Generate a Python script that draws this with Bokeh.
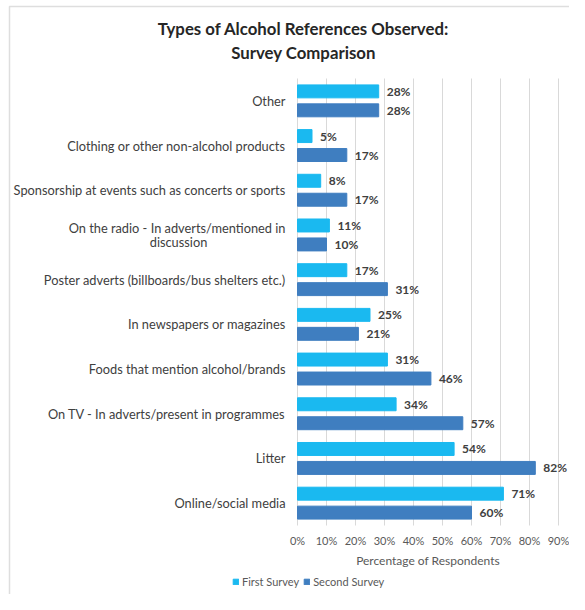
from bokeh.plotting import figure
from bokeh.models import (ColumnDataSource, FixedTicker, PrintfTickFormatter, Label,
                          Legend, LegendItem, LabelSet, Range1d)
from bokeh.core.properties import value
from bokeh.embed import file_html
from bokeh.resources import INLINE

categories = [
    "Other",
    "Clothing or other non-alcohol products",
    "Sponsorship at events such as concerts or sports",
    "On the radio - In adverts/mentioned in\ndiscussion",
    "Poster adverts (billboards/bus shelters etc.)",
    "In newspapers or magazines",
    "Foods that mention alcohol/brands",
    "On TV - In adverts/present in programmes",
    "Litter",
    "Online/social media",
]
first_survey = [28, 5, 8, 11, 17, 25, 31, 34, 54, 71]
second_survey = [28, 17, 17, 10, 31, 21, 46, 57, 82, 60]
x_ticks = [0, 10, 20, 30, 40, 50, 60, 70, 80, 90]
title_lines = ["Types of Alcohol References Observed:", "Survey Comparison"]
series_names = ["First Survey", "Second Survey"]

FONT = "Lato"
C1 = "#1ab9f0"
C2 = "#3f7ec0"
CAT_SIZE = "12.8px"

# ---- layout (pixels) ----
W, H = 569, 594
X0_PX, X90_PX = 297, 558          # where 0 % and 90 % sit
BAND_TOP_PX, BAND_BOT_PX = 78, 525
STANDOFF = 12
n = len(categories)
xs = (X90_PX - X0_PX) / 90.0
ys = (BAND_BOT_PX - BAND_TOP_PX) / n
x_range = Range1d(-X0_PX / xs, (W - X0_PX) / xs)
y_range = Range1d(-0.5 - (H - BAND_BOT_PX) / ys, n - 0.5 + BAND_TOP_PX / ys)

pos = list(range(n - 1, -1, -1))   # first category on top
OFF = 0.212
src = ColumnDataSource(dict(
    y1=[v + OFF for v in pos],
    y2=[v - OFF for v in pos],
    first=first_survey,
    second=second_survey,
    first_lbl=[f"{v}%" for v in first_survey],
    second_lbl=[f"{v}%" for v in second_survey],
))

p = figure(width=W, height=H, x_range=x_range, y_range=y_range,
           output_backend="svg", toolbar_location=None,
           min_border_left=0, min_border_right=0, min_border_top=0, min_border_bottom=0)

# light chart border (left and top)
bx = (9 - X0_PX) / xs
by = n - 0.5 + (BAND_TOP_PX - 6) / ys
p.line(x=[bx, bx, x_range.end], y=[y_range.start, by, by], line_color="#dedede",
       line_width=1.5)

# vertical gridlines over the category bands only
p.segment(x0=x_ticks, x1=x_ticks, y0=-0.5, y1=n - 0.5, line_color="#d9d9d9", line_width=1)

r1 = p.hbar(y="y1", right="first", left=0, height=0.29, source=src,
            fill_color=C1, line_color=C1)
r2 = p.hbar(y="y2", right="second", left=0, height=0.29, source=src,
            fill_color=C2, line_color=C2)

for fld, yy in (("first", "y1"), ("second", "y2")):
    p.add_layout(LabelSet(x=fld, y=yy, text=fld + "_lbl", source=src, x_offset=8,
                          text_baseline="middle", text_font=value(FONT),
                          text_font_style="bold", text_font_size="12px",
                          text_color="#404040"))

xa = p.xaxis[0]
xa.fixed_location = -0.5
xa.bounds = (0, 90)
xa.ticker = FixedTicker(ticks=x_ticks)
xa.formatter = PrintfTickFormatter(format="%d%%")
xa.axis_label = "Percentage of Respondents"
xa.axis_label_text_font = FONT
xa.axis_label_text_font_style = "normal"
xa.axis_label_text_font_size = "12px"
xa.axis_label_text_color = "#595959"
xa.axis_label_standoff = 3
xa.major_label_text_font = FONT
xa.major_label_text_font_size = "11px"
xa.major_label_text_color = "#595959"
xa.major_label_standoff = 8
xa.major_tick_out = 0
xa.major_tick_in = 0
xa.axis_line_color = None
xa.major_tick_line_color = None
xa.minor_tick_line_color = None

# single-line categories go on the axis; wrapped ones are set as centred lines
single = [(v, c) for v, c in zip(pos, categories) if "\n" not in c]
wrapped = [(v, c) for v, c in zip(pos, categories) if "\n" in c]

ya = p.yaxis[0]
ya.fixed_location = 0
ya.bounds = (-0.5, n - 0.5)
ya.ticker = FixedTicker(ticks=[v for v, _ in single])
ya.major_label_overrides = {v: c for v, c in single}
ya.major_label_text_font = FONT
ya.major_label_text_font_size = CAT_SIZE
ya.major_label_text_color = "#404040"
ya.major_label_standoff = STANDOFF
ya.major_tick_out = 0
ya.major_tick_in = 0
ya.axis_line_color = None
ya.major_tick_line_color = None
ya.minor_tick_line_color = None

for v, c in wrapped:
    first_line, second_line = c.split("\n")
    p.add_layout(Label(x=0, y=v, x_offset=-STANDOFF, y_offset=7, text=first_line,
                       text_align="right", text_baseline="middle", text_font=FONT,
                       text_font_size=CAT_SIZE, text_color="#404040"))
    p.add_layout(Label(x=0, y=v, x_offset=-STANDOFF - 107, y_offset=-7, text=second_line,
                       text_align="center", text_baseline="middle", text_font=FONT,
                       text_font_size=CAT_SIZE, text_color="#404040"))

p.xgrid.grid_line_color = None
p.ygrid.grid_line_color = None
p.outline_line_color = None

for i, line in enumerate(title_lines):
    p.add_layout(Label(x=303, y=H - 28 - i * 24, x_units="screen", y_units="screen",
                       text=line, text_align="center", text_baseline="middle",
                       text_font=FONT, text_font_style="bold", text_font_size="16.8px",
                       text_color="#262626"))

legend = Legend(items=[LegendItem(label=series_names[0], renderers=[r1]),
                       LegendItem(label=series_names[1], renderers=[r2])],
                orientation="horizontal", location=(232, H - 588),
                label_text_font=FONT, label_text_font_size="11px",
                label_text_color="#595959", glyph_width=7, glyph_height=7,
                label_height=14, spacing=4, label_standoff=3,
                background_fill_alpha=0, border_line_color=None, padding=0, margin=0)
p.add_layout(legend)

open("out.html", "w").write(file_html(p, INLINE))
